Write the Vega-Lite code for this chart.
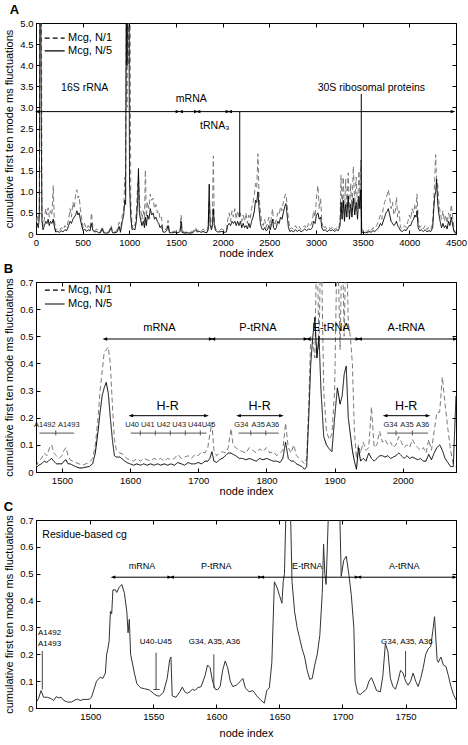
{
"$schema":"https://vega.github.io/schema/vega-lite/v6.json",
"background":"white",
"padding":{"left":3,"top":3,"right":10,"bottom":0},
"spacing":3,
"config":{
 "view":{"stroke":"#000","strokeWidth":1},
 "font":"Liberation Sans",
 "title":{"anchor":"start","frame":"bounds","fontSize":13,"fontWeight":"bold","font":"Liberation Sans","offset":1,"color":"#000"},
 "axis":{"grid":false,"domainColor":"#000","tickColor":"#000","labelColor":"#000","titleColor":"#000","labelFont":"Liberation Sans","titleFont":"Liberation Sans","labelFontSize":9.5,"titleFontSize":11,"titleFontWeight":"normal","tickSize":-4,"labelPadding":7,"labelFlush":false,"labelOverlap":false},
 "axisBottom":{"titlePadding":1},
 "axisLeft":{"titlePadding":5},
 "text":{"font":"Liberation Sans","color":"#000","baseline":"middle"}
},
"datasets":{
"A":[
{"x":0,"d":0.1,"s":0.05},{"x":12,"d":0.45,"s":0.25},{"x":25,"d":0.3,"s":0.15},{"x":36,"d":0.6,"s":0.4},{"x":42,"d":6,"s":6},{"x":50,"d":6,"s":6},{"x":58,"d":6,"s":2},{"x":64,"d":0.5,"s":0.3},{"x":75,"d":0.2,"s":0.1},{"x":90,"d":0.35,"s":0.2},{"x":105,"d":0.6,"s":0.3},{"x":118,"d":0.45,"s":0.25},{"x":130,"d":0.62,"s":0.35},{"x":142,"d":0.4,"s":0.2},{"x":155,"d":0.55,"s":0.3},{"x":170,"d":0.45,"s":0.25},{"x":185,"d":1.15,"s":0.35},{"x":195,"d":0.4,"s":0.2},{"x":210,"d":0.08,"s":0.05},{"x":230,"d":0.12,"s":0.06},{"x":250,"d":0.07,"s":0.04},{"x":270,"d":0.15,"s":0.08},{"x":290,"d":0.1,"s":0.05},{"x":310,"d":0.2,"s":0.1},{"x":330,"d":0.15,"s":0.08},{"x":350,"d":0.35,"s":0.2},{"x":365,"d":0.6,"s":0.3},{"x":380,"d":0.4,"s":0.25},{"x":395,"d":0.75,"s":0.35},{"x":410,"d":0.6,"s":0.4},{"x":425,"d":0.95,"s":0.45},{"x":438,"d":1.05,"s":0.55},{"x":450,"d":0.85,"s":0.45},{"x":462,"d":0.9,"s":0.5},{"x":475,"d":0.6,"s":0.35},{"x":490,"d":0.35,"s":0.2},{"x":505,"d":0.15,"s":0.08},{"x":520,"d":0.25,"s":0.12},{"x":540,"d":0.12,"s":0.06},{"x":560,"d":0.2,"s":0.1},{"x":578,"d":0.12,"s":0.07},{"x":595,"d":0.5,"s":0.25},{"x":610,"d":0.15,"s":0.08},{"x":630,"d":0.08,"s":0.05},{"x":650,"d":0.12,"s":0.06},{"x":670,"d":0.06,"s":0.03},{"x":690,"d":0.05,"s":0.03},{"x":710,"d":0.18,"s":0.12},{"x":725,"d":0.05,"s":0.03},{"x":750,"d":0.04,"s":0.02},{"x":780,"d":0.05,"s":0.03},{"x":805,"d":0.2,"s":0.15},{"x":820,"d":0.06,"s":0.03},{"x":845,"d":0.05,"s":0.03},{"x":870,"d":0.1,"s":0.05},{"x":890,"d":0.28,"s":0.18},{"x":905,"d":0.08,"s":0.04},{"x":925,"d":0.45,"s":0.3},{"x":940,"d":0.6,"s":0.45},{"x":952,"d":1.35,"s":0.8},{"x":960,"d":0.9,"s":0.7},{"x":968,"d":6,"s":6},{"x":975,"d":3,"s":4},{"x":982,"d":6,"s":6},{"x":990,"d":6,"s":6},{"x":996,"d":4,"s":6},{"x":1002,"d":6,"s":1.2},{"x":1008,"d":6,"s":0.8},{"x":1015,"d":0.8,"s":0.4},{"x":1030,"d":0.15,"s":0.1},{"x":1045,"d":0.25,"s":0.12},{"x":1060,"d":0.2,"s":0.1},{"x":1075,"d":0.5,"s":0.3},{"x":1090,"d":1.2,"s":0.8},{"x":1098,"d":1.4,"s":1.55},{"x":1108,"d":0.7,"s":0.5},{"x":1120,"d":0.6,"s":0.35},{"x":1135,"d":0.35,"s":0.2},{"x":1150,"d":0.55,"s":0.3},{"x":1162,"d":0.3,"s":0.15},{"x":1172,"d":1.52,"s":0.4},{"x":1182,"d":0.4,"s":0.2},{"x":1195,"d":0.75,"s":0.45},{"x":1210,"d":0.6,"s":0.35},{"x":1225,"d":0.95,"s":0.6},{"x":1240,"d":0.8,"s":0.45},{"x":1255,"d":0.85,"s":0.5},{"x":1270,"d":0.6,"s":0.35},{"x":1285,"d":0.7,"s":0.4},{"x":1300,"d":0.5,"s":0.3},{"x":1315,"d":0.55,"s":0.25},{"x":1330,"d":0.35,"s":0.15},{"x":1345,"d":0.4,"s":0.2},{"x":1360,"d":0.1,"s":0.05},{"x":1380,"d":0.08,"s":0.04},{"x":1400,"d":0.15,"s":0.08},{"x":1415,"d":0.32,"s":0.2},{"x":1430,"d":0.06,"s":0.03},{"x":1460,"d":0.05,"s":0.03},{"x":1490,"d":0.07,"s":0.04},{"x":1520,"d":0.05,"s":0.03},{"x":1545,"d":0.12,"s":0.06},{"x":1555,"d":0.45,"s":0.3},{"x":1565,"d":0.08,"s":0.04},{"x":1590,"d":0.04,"s":0.02},{"x":1620,"d":0.05,"s":0.03},{"x":1650,"d":0.04,"s":0.02},{"x":1680,"d":0.06,"s":0.03},{"x":1710,"d":0.15,"s":0.1},{"x":1725,"d":0.08,"s":0.05},{"x":1750,"d":0.1,"s":0.06},{"x":1770,"d":0.07,"s":0.04},{"x":1790,"d":0.12,"s":0.06},{"x":1810,"d":0.08,"s":0.04},{"x":1830,"d":0.05,"s":0.03},{"x":1845,"d":0.2,"s":0.1},{"x":1856,"d":0.8,"s":1.18},{"x":1866,"d":0.3,"s":0.2},{"x":1880,"d":0.15,"s":0.1},{"x":1890,"d":0.4,"s":0.2},{"x":1900,"d":1.85,"s":0.6},{"x":1910,"d":0.3,"s":0.2},{"x":1925,"d":0.12,"s":0.08},{"x":1945,"d":0.1,"s":0.05},{"x":1965,"d":0.08,"s":0.05},{"x":1985,"d":0.12,"s":0.06},{"x":2005,"d":0.1,"s":0.05},{"x":2025,"d":0.08,"s":0.04},{"x":2040,"d":0.1,"s":0.05},{"x":2055,"d":0.35,"s":0.2},{"x":2070,"d":0.5,"s":0.25},{"x":2085,"d":0.3,"s":0.2},{"x":2100,"d":0.55,"s":0.3},{"x":2115,"d":0.4,"s":0.25},{"x":2130,"d":0.6,"s":0.3},{"x":2145,"d":0.35,"s":0.2},{"x":2160,"d":0.55,"s":0.3},{"x":2175,"d":0.4,"s":0.2},{"x":2190,"d":0.5,"s":0.3},{"x":2205,"d":0.3,"s":0.15},{"x":2220,"d":0.45,"s":0.25},{"x":2235,"d":0.3,"s":0.15},{"x":2250,"d":0.5,"s":0.2},{"x":2265,"d":0.25,"s":0.12},{"x":2280,"d":0.45,"s":0.25},{"x":2295,"d":0.35,"s":0.15},{"x":2310,"d":0.6,"s":0.3},{"x":2325,"d":0.75,"s":0.4},{"x":2340,"d":0.95,"s":0.55},{"x":2352,"d":1.2,"s":0.8},{"x":2365,"d":1.1,"s":0.75},{"x":2378,"d":1.9,"s":1.0},{"x":2390,"d":0.9,"s":0.6},{"x":2405,"d":0.5,"s":0.25},{"x":2420,"d":0.25,"s":0.12},{"x":2435,"d":0.2,"s":0.1},{"x":2450,"d":0.35,"s":0.15},{"x":2465,"d":0.15,"s":0.08},{"x":2480,"d":0.25,"s":0.1},{"x":2495,"d":0.4,"s":0.2},{"x":2510,"d":0.2,"s":0.1},{"x":2525,"d":0.45,"s":0.25},{"x":2535,"d":0.6,"s":0.35},{"x":2545,"d":0.3,"s":0.15},{"x":2560,"d":0.2,"s":0.1},{"x":2575,"d":0.35,"s":0.15},{"x":2590,"d":0.5,"s":0.3},{"x":2605,"d":0.45,"s":0.25},{"x":2620,"d":0.65,"s":0.4},{"x":2635,"d":0.55,"s":0.35},{"x":2650,"d":0.75,"s":0.5},{"x":2665,"d":0.9,"s":0.65},{"x":2678,"d":0.95,"s":0.72},{"x":2690,"d":0.7,"s":0.45},{"x":2705,"d":0.35,"s":0.15},{"x":2720,"d":0.12,"s":0.06},{"x":2740,"d":0.15,"s":0.08},{"x":2760,"d":0.1,"s":0.05},{"x":2780,"d":0.2,"s":0.1},{"x":2800,"d":0.12,"s":0.06},{"x":2820,"d":0.18,"s":0.1},{"x":2840,"d":0.1,"s":0.05},{"x":2860,"d":0.15,"s":0.08},{"x":2880,"d":0.2,"s":0.12},{"x":2900,"d":0.12,"s":0.08},{"x":2920,"d":0.25,"s":0.12},{"x":2940,"d":0.18,"s":0.1},{"x":2960,"d":0.3,"s":0.15},{"x":2975,"d":0.55,"s":0.3},{"x":2990,"d":0.4,"s":0.25},{"x":3005,"d":0.85,"s":0.45},{"x":3020,"d":1.15,"s":0.5},{"x":3035,"d":0.6,"s":0.35},{"x":3050,"d":0.85,"s":0.4},{"x":3062,"d":0.3,"s":0.15},{"x":3080,"d":0.12,"s":0.08},{"x":3100,"d":0.18,"s":0.1},{"x":3120,"d":0.1,"s":0.05},{"x":3140,"d":0.15,"s":0.1},{"x":3160,"d":0.12,"s":0.08},{"x":3180,"d":0.18,"s":0.1},{"x":3200,"d":0.1,"s":0.06},{"x":3220,"d":0.15,"s":0.1},{"x":3240,"d":0.12,"s":0.08},{"x":3258,"d":0.3,"s":0.2},{"x":3268,"d":1.4,"s":0.75},{"x":3280,"d":0.5,"s":0.35},{"x":3292,"d":1.35,"s":0.8},{"x":3305,"d":0.45,"s":0.3},{"x":3318,"d":1.3,"s":0.7},{"x":3330,"d":0.6,"s":0.4},{"x":3345,"d":1.45,"s":0.9},{"x":3358,"d":0.5,"s":0.35},{"x":3372,"d":1.2,"s":0.7},{"x":3385,"d":0.55,"s":0.4},{"x":3400,"d":1.6,"s":0.85},{"x":3415,"d":0.7,"s":0.45},{"x":3430,"d":1.35,"s":0.75},{"x":3445,"d":0.6,"s":0.35},{"x":3460,"d":1.5,"s":0.9},{"x":3470,"d":0.9,"s":0.6},{"x":3480,"d":1.75,"s":1.05},{"x":3490,"d":0.08,"s":0.04},{"x":3510,"d":0.06,"s":0.03},{"x":3530,"d":0.1,"s":0.04},{"x":3550,"d":0.05,"s":0.03},{"x":3570,"d":0.12,"s":0.06},{"x":3590,"d":0.08,"s":0.04},{"x":3610,"d":0.15,"s":0.08},{"x":3630,"d":0.12,"s":0.06},{"x":3650,"d":0.2,"s":0.1},{"x":3670,"d":0.3,"s":0.15},{"x":3690,"d":0.45,"s":0.25},{"x":3705,"d":0.35,"s":0.2},{"x":3720,"d":0.6,"s":0.3},{"x":3735,"d":0.75,"s":0.4},{"x":3750,"d":0.85,"s":0.5},{"x":3765,"d":0.95,"s":0.55},{"x":3775,"d":1.05,"s":0.6},{"x":3790,"d":0.85,"s":0.45},{"x":3805,"d":0.6,"s":0.3},{"x":3820,"d":0.75,"s":0.25},{"x":3835,"d":0.45,"s":0.2},{"x":3850,"d":0.55,"s":0.25},{"x":3862,"d":0.87,"s":0.3},{"x":3875,"d":0.4,"s":0.2},{"x":3890,"d":0.55,"s":0.15},{"x":3905,"d":0.15,"s":0.08},{"x":3925,"d":0.12,"s":0.06},{"x":3945,"d":0.2,"s":0.1},{"x":3965,"d":0.15,"s":0.08},{"x":3985,"d":0.3,"s":0.15},{"x":4000,"d":0.45,"s":0.2},{"x":4015,"d":0.35,"s":0.2},{"x":4030,"d":0.6,"s":0.3},{"x":4045,"d":0.5,"s":0.35},{"x":4060,"d":0.7,"s":0.45},{"x":4072,"d":0.6,"s":0.4},{"x":4082,"d":0.95,"s":0.55},{"x":4095,"d":0.35,"s":0.15},{"x":4110,"d":0.15,"s":0.08},{"x":4130,"d":0.2,"s":0.1},{"x":4150,"d":0.12,"s":0.06},{"x":4170,"d":0.2,"s":0.1},{"x":4190,"d":0.1,"s":0.05},{"x":4210,"d":0.18,"s":0.08},{"x":4230,"d":0.12,"s":0.06},{"x":4250,"d":0.25,"s":0.15},{"x":4262,"d":0.8,"s":0.6},{"x":4272,"d":1.3,"s":0.9},{"x":4282,"d":1.88,"s":1.0},{"x":4292,"d":1.3,"s":1.3},{"x":4302,"d":1.25,"s":0.8},{"x":4315,"d":0.8,"s":0.5},{"x":4330,"d":0.5,"s":0.3},{"x":4345,"d":0.35,"s":0.15},{"x":4360,"d":0.55,"s":0.25},{"x":4375,"d":0.3,"s":0.15},{"x":4390,"d":0.45,"s":0.2},{"x":4405,"d":0.25,"s":0.12},{"x":4420,"d":0.5,"s":0.3},{"x":4435,"d":0.35,"s":0.2},{"x":4450,"d":0.7,"s":0.4},{"x":4465,"d":0.4,"s":0.2},{"x":4480,"d":0.1,"s":0.05},{"x":4500,"d":0.02,"s":0.01}
],
"legA":[{"x1":93,"x2":307,"y":4.64,"series":"d","label":"Mcg, N/1"},{"x1":93,"x2":307,"y":4.34,"series":"s","label":"Mcg, N/5"}],
"arrA":[{"x1":14,"x2":1521,"y":2.9},{"x1":1550,"x2":1718,"y":2.9},{"x1":1736,"x2":2057,"y":2.9},{"x1":2075,"x2":4468,"y":2.9}],
"txtA":[{"x":522,"y":3.45,"t":"16S rRNA"},{"x":1664,"y":3.2,"t":"mRNA"},{"x":1915,"y":2.57,"t":"tRNA₃"},{"x":3593,"y":3.45,"t":"30S ribosomal proteins"}],
"vlA":[{"x":2183,"y1":0.4,"y2":2.9},{"x":3485,"y1":0,"y2":3.32}],
"B":[
{"x":1462,"d":0.02,"s":0.015},{"x":1466,"d":0.04,"s":0.025},{"x":1470,"d":0.05,"s":0.03},{"x":1474,"d":0.07,"s":0.04},{"x":1478,"d":0.06,"s":0.035},{"x":1482,"d":0.09,"s":0.045},{"x":1485,"d":0.1,"s":0.05},{"x":1488,"d":0.07,"s":0.04},{"x":1492,"d":0.06,"s":0.03},{"x":1496,"d":0.05,"s":0.03},{"x":1500,"d":0.06,"s":0.03},{"x":1503,"d":0.08,"s":0.04},{"x":1506,"d":0.09,"s":0.045},{"x":1509,"d":0.06,"s":0.03},{"x":1512,"d":0.045,"s":0.03},{"x":1516,"d":0.04,"s":0.025},{"x":1520,"d":0.035,"s":0.02},{"x":1525,"d":0.03,"s":0.015},{"x":1530,"d":0.025,"s":0.015},{"x":1535,"d":0.03,"s":0.018},{"x":1540,"d":0.035,"s":0.02},{"x":1545,"d":0.05,"s":0.03},{"x":1549,"d":0.1,"s":0.07},{"x":1553,"d":0.2,"s":0.15},{"x":1556,"d":0.3,"s":0.22},{"x":1559,"d":0.37,"s":0.28},{"x":1562,"d":0.44,"s":0.31},{"x":1565,"d":0.45,"s":0.33},{"x":1568,"d":0.46,"s":0.29},{"x":1571,"d":0.4,"s":0.2},{"x":1574,"d":0.25,"s":0.12},{"x":1577,"d":0.12,"s":0.06},{"x":1580,"d":0.08,"s":0.055},{"x":1585,"d":0.07,"s":0.055},{"x":1590,"d":0.065,"s":0.045},{"x":1595,"d":0.05,"s":0.035},{"x":1600,"d":0.045,"s":0.03},{"x":1605,"d":0.04,"s":0.025},{"x":1610,"d":0.05,"s":0.03},{"x":1615,"d":0.04,"s":0.025},{"x":1620,"d":0.05,"s":0.03},{"x":1625,"d":0.045,"s":0.025},{"x":1630,"d":0.04,"s":0.03},{"x":1635,"d":0.05,"s":0.025},{"x":1640,"d":0.045,"s":0.03},{"x":1645,"d":0.05,"s":0.025},{"x":1650,"d":0.04,"s":0.03},{"x":1655,"d":0.05,"s":0.025},{"x":1660,"d":0.045,"s":0.03},{"x":1665,"d":0.05,"s":0.025},{"x":1670,"d":0.065,"s":0.035},{"x":1675,"d":0.05,"s":0.03},{"x":1680,"d":0.055,"s":0.025},{"x":1685,"d":0.06,"s":0.035},{"x":1690,"d":0.05,"s":0.03},{"x":1695,"d":0.065,"s":0.03},{"x":1700,"d":0.06,"s":0.035},{"x":1705,"d":0.075,"s":0.03},{"x":1710,"d":0.07,"s":0.04},{"x":1714,"d":0.09,"s":0.04},{"x":1717,"d":0.14,"s":0.05},{"x":1720,"d":0.18,"s":0.075},{"x":1723,"d":0.08,"s":0.04},{"x":1727,"d":0.06,"s":0.035},{"x":1731,"d":0.07,"s":0.045},{"x":1735,"d":0.075,"s":0.05},{"x":1740,"d":0.07,"s":0.06},{"x":1744,"d":0.09,"s":0.07},{"x":1748,"d":0.16,"s":0.07},{"x":1751,"d":0.1,"s":0.065},{"x":1755,"d":0.09,"s":0.06},{"x":1760,"d":0.08,"s":0.05},{"x":1765,"d":0.075,"s":0.05},{"x":1770,"d":0.07,"s":0.045},{"x":1775,"d":0.09,"s":0.05},{"x":1780,"d":0.08,"s":0.045},{"x":1785,"d":0.07,"s":0.04},{"x":1790,"d":0.085,"s":0.05},{"x":1795,"d":0.075,"s":0.045},{"x":1800,"d":0.09,"s":0.05},{"x":1805,"d":0.07,"s":0.045},{"x":1810,"d":0.075,"s":0.04},{"x":1815,"d":0.06,"s":0.04},{"x":1820,"d":0.07,"s":0.035},{"x":1824,"d":0.08,"s":0.05},{"x":1828,"d":0.18,"s":0.11},{"x":1832,"d":0.09,"s":0.05},{"x":1836,"d":0.07,"s":0.04},{"x":1840,"d":0.1,"s":0.04},{"x":1844,"d":0.06,"s":0.03},{"x":1848,"d":0.05,"s":0.025},{"x":1852,"d":0.04,"s":0.02},{"x":1856,"d":0.03,"s":0.01},{"x":1859,"d":0.05,"s":0.02},{"x":1862,"d":0.25,"s":0.2},{"x":1865,"d":0.5,"s":0.4},{"x":1868,"d":0.48,"s":0.5},{"x":1871,"d":0.42,"s":0.57},{"x":1874,"d":0.9,"s":0.42},{"x":1877,"d":0.45,"s":0.5},{"x":1880,"d":0.9,"s":0.3},{"x":1884,"d":0.3,"s":0.13},{"x":1888,"d":0.15,"s":0.1},{"x":1892,"d":0.12,"s":0.085},{"x":1896,"d":0.14,"s":0.075},{"x":1900,"d":0.3,"s":0.2},{"x":1904,"d":0.9,"s":0.31},{"x":1908,"d":0.45,"s":0.25},{"x":1911,"d":0.9,"s":0.28},{"x":1914,"d":0.5,"s":0.36},{"x":1917,"d":0.9,"s":0.39},{"x":1920,"d":0.55,"s":0.2},{"x":1923,"d":0.5,"s":0.14},{"x":1926,"d":0.4,"s":0.08},{"x":1929,"d":0.15,"s":0.04},{"x":1932,"d":0.05,"s":0.01},{"x":1935,"d":0.1,"s":0.09},{"x":1938,"d":0.07,"s":0.04},{"x":1942,"d":0.11,"s":0.05},{"x":1946,"d":0.08,"s":0.04},{"x":1950,"d":0.09,"s":0.07},{"x":1954,"d":0.24,"s":0.05},{"x":1958,"d":0.09,"s":0.04},{"x":1962,"d":0.1,"s":0.05},{"x":1966,"d":0.15,"s":0.06},{"x":1970,"d":0.11,"s":0.06},{"x":1974,"d":0.12,"s":0.055},{"x":1978,"d":0.1,"s":0.06},{"x":1982,"d":0.11,"s":0.05},{"x":1986,"d":0.09,"s":0.055},{"x":1990,"d":0.1,"s":0.06},{"x":1994,"d":0.13,"s":0.07},{"x":1998,"d":0.11,"s":0.06},{"x":2002,"d":0.09,"s":0.05},{"x":2006,"d":0.1,"s":0.06},{"x":2010,"d":0.09,"s":0.05},{"x":2014,"d":0.12,"s":0.055},{"x":2018,"d":0.1,"s":0.05},{"x":2022,"d":0.09,"s":0.045},{"x":2026,"d":0.08,"s":0.05},{"x":2030,"d":0.09,"s":0.04},{"x":2034,"d":0.07,"s":0.04},{"x":2038,"d":0.12,"s":0.065},{"x":2042,"d":0.08,"s":0.045},{"x":2046,"d":0.15,"s":0.07},{"x":2050,"d":0.22,"s":0.09},{"x":2054,"d":0.22,"s":0.1},{"x":2058,"d":0.35,"s":0.08},{"x":2062,"d":0.25,"s":0.05},{"x":2066,"d":0.16,"s":0.035},{"x":2070,"d":0.08,"s":0.02},{"x":2074,"d":0.03,"s":0.02},{"x":2078,"d":0.02,"s":0.28}
],
"legB":[{"x1":1475,"x2":1504,"y":0.67,"series":"d","label":"Mcg, N/1"},{"x1":1475,"x2":1504,"y":0.619,"series":"s","label":"Mcg, N/5"}],
"arrB":[{"x1":1563,"x2":1719,"y":0.49},{"x1":1721.5,"x2":1858,"y":0.49},{"x1":1861,"x2":1934,"y":0.49},{"x1":1936.6,"x2":2077,"y":0.49},{"x1":1601,"x2":1712,"y":0.2075},{"x1":1759,"x2":1822,"y":0.2075},{"x1":1974,"x2":2037,"y":0.2075}],
"txtB":[{"x":1643,"y":0.53,"t":"mRNA"},{"x":1787.5,"y":0.53,"t":"P-tRNA"},{"x":1895,"y":0.53,"t":"E-tRNA"},{"x":2005,"y":0.53,"t":"A-tRNA"}],
"hrB":[{"x":1655,"y":0.245,"t":"H-R"},{"x":1790,"y":0.245,"t":"H-R"},{"x":2005,"y":0.245,"t":"H-R"}],
"resB":[{"x":1475,"y":0.173,"t":"A1492"},{"x":1510,"y":0.173,"t":"A1493"},{"x":1603,"y":0.173,"t":"U40"},{"x":1626,"y":0.173,"t":"U41"},{"x":1649,"y":0.173,"t":"U42"},{"x":1672,"y":0.173,"t":"U43"},{"x":1695,"y":0.173,"t":"U44"},{"x":1715,"y":0.173,"t":"U45"},{"x":1763,"y":0.173,"t":"G34"},{"x":1788,"y":0.173,"t":"A35"},{"x":1809,"y":0.173,"t":"A36"},{"x":1982,"y":0.173,"t":"G34"},{"x":2006,"y":0.173,"t":"A35"},{"x":2029,"y":0.173,"t":"A36"}],
"glB":[{"x1":1467,"x2":1518,"y":0.143},{"x1":1601,"x2":1712,"y":0.143},{"x1":1759,"x2":1818,"y":0.143},{"x1":1977,"x2":2037,"y":0.143}],
"tkB":[{"x":1491,"y1":0.135,"y2":0.153},{"x":1615,"y1":0.135,"y2":0.153},{"x":1637,"y1":0.135,"y2":0.153},{"x":1659,"y1":0.135,"y2":0.153},{"x":1681,"y1":0.135,"y2":0.153},{"x":1703,"y1":0.135,"y2":0.153},{"x":1777,"y1":0.135,"y2":0.153},{"x":1799,"y1":0.135,"y2":0.153},{"x":1990,"y1":0.135,"y2":0.153},{"x":2014,"y1":0.135,"y2":0.153}],
"C":[
{"x":1457,"v":0.02},{"x":1459,"v":0.035},{"x":1461,"v":0.065},{"x":1463,"v":0.04},{"x":1466,"v":0.04},{"x":1469,"v":0.035},{"x":1471,"v":0.028},{"x":1473,"v":0.042},{"x":1475,"v":0.038},{"x":1477,"v":0.04},{"x":1479,"v":0.028},{"x":1482,"v":0.022},{"x":1485,"v":0.022},{"x":1488,"v":0.03},{"x":1490,"v":0.033},{"x":1492,"v":0.028},{"x":1495,"v":0.032},{"x":1499,"v":0.032},{"x":1501,"v":0.04},{"x":1503,"v":0.07},{"x":1505,"v":0.1},{"x":1508,"v":0.115},{"x":1510,"v":0.11},{"x":1512,"v":0.13},{"x":1513,"v":0.2},{"x":1514,"v":0.22},{"x":1515,"v":0.25},{"x":1516,"v":0.36},{"x":1517,"v":0.35},{"x":1518,"v":0.44},{"x":1520,"v":0.44},{"x":1521,"v":0.43},{"x":1523,"v":0.45},{"x":1525,"v":0.46},{"x":1527,"v":0.43},{"x":1529,"v":0.36},{"x":1530,"v":0.28},{"x":1531,"v":0.33},{"x":1532,"v":0.2},{"x":1535,"v":0.13},{"x":1537,"v":0.09},{"x":1540,"v":0.075},{"x":1543,"v":0.072},{"x":1547,"v":0.067},{"x":1550,"v":0.055},{"x":1553,"v":0.045},{"x":1555,"v":0.045},{"x":1558,"v":0.058},{"x":1561,"v":0.11},{"x":1563,"v":0.18},{"x":1564,"v":0.19},{"x":1565,"v":0.045},{"x":1568,"v":0.04},{"x":1571,"v":0.06},{"x":1573,"v":0.078},{"x":1575,"v":0.06},{"x":1577,"v":0.055},{"x":1579,"v":0.06},{"x":1581,"v":0.07},{"x":1583,"v":0.065},{"x":1585,"v":0.075},{"x":1588,"v":0.08},{"x":1591,"v":0.12},{"x":1593,"v":0.16},{"x":1595,"v":0.15},{"x":1597,"v":0.1},{"x":1599,"v":0.07},{"x":1601,"v":0.068},{"x":1603,"v":0.08},{"x":1605,"v":0.14},{"x":1607,"v":0.175},{"x":1609,"v":0.15},{"x":1611,"v":0.1},{"x":1613,"v":0.08},{"x":1616,"v":0.085},{"x":1619,"v":0.1},{"x":1621,"v":0.11},{"x":1623,"v":0.075},{"x":1626,"v":0.06},{"x":1629,"v":0.065},{"x":1632,"v":0.045},{"x":1635,"v":0.03},{"x":1638,"v":0.018},{"x":1640,"v":0.065},{"x":1642,"v":0.075},{"x":1644,"v":0.17},{"x":1646,"v":0.47},{"x":1648,"v":0.45},{"x":1650,"v":0.42},{"x":1652,"v":0.39},{"x":1653,"v":0.47},{"x":1654,"v":0.5},{"x":1656,"v":0.9},{"x":1658,"v":0.9},{"x":1660,"v":0.47},{"x":1662,"v":0.36},{"x":1664,"v":0.3},{"x":1666,"v":0.26},{"x":1668,"v":0.22},{"x":1670,"v":0.19},{"x":1672,"v":0.14},{"x":1674,"v":0.107},{"x":1676,"v":0.11},{"x":1678,"v":0.16},{"x":1680,"v":0.2},{"x":1682,"v":0.27},{"x":1684,"v":0.43},{"x":1685,"v":0.61},{"x":1686,"v":0.5},{"x":1687,"v":0.46},{"x":1688,"v":0.6},{"x":1690,"v":0.9},{"x":1697,"v":0.9},{"x":1699,"v":0.49},{"x":1701,"v":0.55},{"x":1703,"v":0.565},{"x":1705,"v":0.5},{"x":1707,"v":0.42},{"x":1709,"v":0.3},{"x":1710,"v":0.1},{"x":1712,"v":0.055},{"x":1714,"v":0.05},{"x":1716,"v":0.058},{"x":1719,"v":0.07},{"x":1721,"v":0.1},{"x":1723,"v":0.113},{"x":1725,"v":0.09},{"x":1727,"v":0.065},{"x":1730,"v":0.06},{"x":1732,"v":0.12},{"x":1734,"v":0.24},{"x":1736,"v":0.21},{"x":1738,"v":0.11},{"x":1740,"v":0.08},{"x":1742,"v":0.07},{"x":1744,"v":0.1},{"x":1746,"v":0.14},{"x":1748,"v":0.13},{"x":1750,"v":0.1},{"x":1752,"v":0.085},{"x":1754,"v":0.1},{"x":1756,"v":0.13},{"x":1758,"v":0.1},{"x":1760,"v":0.08},{"x":1762,"v":0.11},{"x":1764,"v":0.15},{"x":1766,"v":0.2},{"x":1768,"v":0.22},{"x":1770,"v":0.23},{"x":1772,"v":0.3},{"x":1773,"v":0.34},{"x":1775,"v":0.18},{"x":1776,"v":0.17},{"x":1778,"v":0.19},{"x":1780,"v":0.16},{"x":1782,"v":0.155},{"x":1784,"v":0.12},{"x":1786,"v":0.08},{"x":1788,"v":0.05},{"x":1790,"v":0.03}
],
"arrC":[{"x1":1518,"x2":1563,"y":0.487},{"x1":1564.5,"x2":1635,"y":0.487},{"x1":1636,"x2":1711.6,"y":0.487},{"x1":1713,"x2":1789,"y":0.487}],
"txtC":[{"x":1541,"y":0.53,"t":"mRNA"},{"x":1600,"y":0.53,"t":"P-tRNA"},{"x":1672,"y":0.53,"t":"E-tRNA"},{"x":1749,"y":0.53,"t":"A-tRNA"}],
"noteC":[{"x":1462,"y":0.645,"t":"Residue-based cg"}],
"resCl":[{"x":1458.6,"y":0.281,"t":"A1492"},{"x":1458.6,"y":0.24,"t":"A1493"}],
"resCc":[{"x":1552,"y":0.244,"t":"U40-U45"},{"x":1598.5,"y":0.244,"t":"G34, A35, A36"},{"x":1751,"y":0.244,"t":"G34, A35, A36"}],
"vlC":[{"x":1462,"y1":0.069,"y2":0.2125},{"x":1552.2,"y1":0.069,"y2":0.206},{"x":1598,"y1":0.075,"y2":0.2},{"x":1750,"y1":0.115,"y2":0.2125}],
"capC":[{"x1":1550,"x2":1555,"y":0.069}]
},
"vconcat":[
{
 "title":{"text":"A","dx":6},
 "width":420,"height":211,
 "resolve":{"axis":{"x":"independent","y":"independent"}},
 "layer":[
  {"data":{"name":"A"},"transform":[{"fold":["d","s"],"as":["series","v"]}],
   "mark":{"type":"line","clip":true,"strokeWidth":1},
   "encoding":{
    "x":{"field":"x","type":"quantitative","scale":{"domain":[0,4500],"nice":false,"zero":false},"axis":{"orient":"bottom","values":[0,500,1000,1500,2000,2500,3000,3500,4000,4500],"format":"d","title":"node index"}},
    "y":{"field":"v","type":"quantitative","scale":{"domain":[0,5],"nice":false},"axis":{"orient":"left","values":[0,0.5,1,1.5,2,2.5,3,3.5,4,4.5,5],"labelExpr":"datum.value === 0 ? '0' : format(datum.value, '.1f')","title":"cumulative first ten mode ms fluctuations"}},
    "color":{"field":"series","type":"nominal","scale":{"domain":["d","s"],"range":["#7a7a7a","#000000"]},"legend":null},
    "strokeDash":{"field":"series","type":"nominal","scale":{"domain":["d","s"],"range":[[5,3],[1,0]]},"legend":null}}},
  {"data":{"name":"legA"},"mark":{"type":"rule","color":"#000","strokeWidth":1.2},
   "encoding":{
    "x":{"field":"x1","type":"quantitative","axis":{"orient":"top","values":[0,500,1000,1500,2000,2500,3000,3500,4000,4500],"labels":false,"title":null}},
    "x2":{"field":"x2"},
    "y":{"field":"y","type":"quantitative","axis":{"orient":"right","values":[0,0.5,1,1.5,2,2.5,3,3.5,4,4.5,5],"labels":false,"title":null}},
    "strokeDash":{"field":"series","type":"nominal","legend":null}}},
  {"data":{"name":"legA"},"mark":{"type":"text","align":"left","fontSize":11},
   "encoding":{"x":{"datum":343,"type":"quantitative","axis":null},"y":{"field":"y","type":"quantitative","axis":null},"text":{"field":"label"}}},
  {"data":{"name":"arrA"},"mark":{"type":"rule","color":"#000","strokeWidth":1},
   "encoding":{"x":{"field":"x1","type":"quantitative","axis":null},"x2":{"field":"x2"},"y":{"field":"y","type":"quantitative","axis":null}}},
  {"data":{"name":"arrA"},"mark":{"type":"point","shape":"M1,-0.7L-1,0L1,0.7Z","filled":true,"color":"#000","size":22,"opacity":1},
   "encoding":{"x":{"field":"x1","type":"quantitative","axis":null},"y":{"field":"y","type":"quantitative","axis":null}}},
  {"data":{"name":"arrA"},"mark":{"type":"point","shape":"M-1,-0.7L1,0L-1,0.7Z","filled":true,"color":"#000","size":22,"opacity":1},
   "encoding":{"x":{"field":"x2","type":"quantitative","axis":null},"y":{"field":"y","type":"quantitative","axis":null}}},
  {"data":{"name":"txtA"},"mark":{"type":"text","fontSize":10.5,"align":"center"},
   "encoding":{"x":{"field":"x","type":"quantitative","axis":null},"y":{"field":"y","type":"quantitative","axis":null},"text":{"field":"t"}}},
  {"data":{"name":"vlA"},"mark":{"type":"rule","color":"#000","strokeWidth":1},
   "encoding":{"x":{"field":"x","type":"quantitative","axis":null},"y":{"field":"y1","type":"quantitative","axis":null},"y2":{"field":"y2"}}}
 ]
},
{
 "title":{"text":"B"},
 "width":420,"height":190,
 "resolve":{"axis":{"x":"independent","y":"independent"}},
 "layer":[
  {"data":{"name":"B"},"transform":[{"fold":["d","s"],"as":["series","v"]}],
   "mark":{"type":"line","clip":true,"strokeWidth":1},
   "encoding":{
    "x":{"field":"x","type":"quantitative","scale":{"domain":[1462,2078],"nice":false,"zero":false},"axis":{"orient":"bottom","values":[1500,1600,1700,1800,1900,2000],"format":"d","title":"node index"}},
    "y":{"field":"v","type":"quantitative","scale":{"domain":[0,0.7],"nice":false},"axis":{"orient":"left","values":[0,0.1,0.2,0.3,0.4,0.5,0.6,0.7],"labelExpr":"datum.value === 0 ? '0' : format(datum.value, '.1f')","title":"cumulative first ten mode ms fluctuations"}},
    "color":{"field":"series","type":"nominal","scale":{"domain":["d","s"],"range":["#6e6e6e","#000000"]},"legend":null},
    "strokeDash":{"field":"series","type":"nominal","scale":{"domain":["d","s"],"range":[[5,3],[1,0]]},"legend":null}}},
  {"data":{"name":"legB"},"mark":{"type":"rule","color":"#000","strokeWidth":1.2},
   "encoding":{
    "x":{"field":"x1","type":"quantitative","axis":{"orient":"top","values":[1500,1600,1700,1800,1900,2000],"labels":false,"title":null}},
    "x2":{"field":"x2"},
    "y":{"field":"y","type":"quantitative","axis":{"orient":"right","values":[0,0.1,0.2,0.3,0.4,0.5,0.6,0.7],"labels":false,"title":null}},
    "strokeDash":{"field":"series","type":"nominal","legend":null}}},
  {"data":{"name":"legB"},"mark":{"type":"text","align":"left","fontSize":11},
   "encoding":{"x":{"datum":1509,"type":"quantitative","axis":null},"y":{"field":"y","type":"quantitative","axis":null},"text":{"field":"label"}}},
  {"data":{"name":"arrB"},"mark":{"type":"rule","color":"#000","strokeWidth":1},
   "encoding":{"x":{"field":"x1","type":"quantitative","axis":null},"x2":{"field":"x2"},"y":{"field":"y","type":"quantitative","axis":null}}},
  {"data":{"name":"arrB"},"mark":{"type":"point","shape":"M1,-0.7L-1,0L1,0.7Z","filled":true,"color":"#000","size":22,"opacity":1},
   "encoding":{"x":{"field":"x1","type":"quantitative","axis":null},"y":{"field":"y","type":"quantitative","axis":null}}},
  {"data":{"name":"arrB"},"mark":{"type":"point","shape":"M-1,-0.7L1,0L-1,0.7Z","filled":true,"color":"#000","size":22,"opacity":1},
   "encoding":{"x":{"field":"x2","type":"quantitative","axis":null},"y":{"field":"y","type":"quantitative","axis":null}}},
  {"data":{"name":"txtB"},"mark":{"type":"text","fontSize":11,"align":"center"},
   "encoding":{"x":{"field":"x","type":"quantitative","axis":null},"y":{"field":"y","type":"quantitative","axis":null},"text":{"field":"t"}}},
  {"data":{"name":"hrB"},"mark":{"type":"text","fontSize":12.5,"align":"center"},
   "encoding":{"x":{"field":"x","type":"quantitative","axis":null},"y":{"field":"y","type":"quantitative","axis":null},"text":{"field":"t"}}},
  {"data":{"name":"resB"},"mark":{"type":"text","fontSize":7.5,"align":"center","color":"#222"},
   "encoding":{"x":{"field":"x","type":"quantitative","axis":null},"y":{"field":"y","type":"quantitative","axis":null},"text":{"field":"t"}}},
  {"data":{"name":"glB"},"mark":{"type":"rule","color":"#777","strokeWidth":1.2},
   "encoding":{"x":{"field":"x1","type":"quantitative","axis":null},"x2":{"field":"x2"},"y":{"field":"y","type":"quantitative","axis":null}}},
  {"data":{"name":"tkB"},"mark":{"type":"rule","color":"#555","strokeWidth":1},
   "encoding":{"x":{"field":"x","type":"quantitative","axis":null},"y":{"field":"y1","type":"quantitative","axis":null},"y2":{"field":"y2"}}}
 ]
},
{
 "title":{"text":"C"},
 "width":420,"height":188,
 "resolve":{"axis":{"x":"independent","y":"independent"}},
 "layer":[
  {"data":{"name":"C"},
   "mark":{"type":"line","clip":true,"strokeWidth":1,"color":"#333"},
   "encoding":{
    "x":{"field":"x","type":"quantitative","scale":{"domain":[1457,1790],"nice":false,"zero":false},"axis":{"orient":"bottom","values":[1500,1550,1600,1650,1700,1750],"format":"d","title":"node index","titlePadding":7}},
    "y":{"field":"v","type":"quantitative","scale":{"domain":[0,0.7],"nice":false},"axis":{"orient":"left","values":[0,0.1,0.2,0.3,0.4,0.5,0.6,0.7],"labelExpr":"datum.value === 0 ? '0' : format(datum.value, '.1f')","title":"cumulative first ten mode ms fluctuations"}}}},
  {"data":{"name":"vlC"},"mark":{"type":"rule","color":"#444","strokeWidth":1},
   "encoding":{
    "x":{"field":"x","type":"quantitative","axis":{"orient":"top","values":[1500,1550,1600,1650,1700,1750],"labels":false,"title":null}},
    "y":{"field":"y1","type":"quantitative","axis":{"orient":"right","values":[0,0.1,0.2,0.3,0.4,0.5,0.6,0.7],"labels":false,"title":null}},
    "y2":{"field":"y2"}}},
  {"data":{"name":"capC"},"mark":{"type":"rule","color":"#444","strokeWidth":1},
   "encoding":{"x":{"field":"x1","type":"quantitative","axis":null},"x2":{"field":"x2"},"y":{"field":"y","type":"quantitative","axis":null}}},
  {"data":{"name":"arrC"},"mark":{"type":"rule","color":"#000","strokeWidth":1},
   "encoding":{"x":{"field":"x1","type":"quantitative","axis":null},"x2":{"field":"x2"},"y":{"field":"y","type":"quantitative","axis":null}}},
  {"data":{"name":"arrC"},"mark":{"type":"point","shape":"M1,-0.7L-1,0L1,0.7Z","filled":true,"color":"#000","size":22,"opacity":1},
   "encoding":{"x":{"field":"x1","type":"quantitative","axis":null},"y":{"field":"y","type":"quantitative","axis":null}}},
  {"data":{"name":"arrC"},"mark":{"type":"point","shape":"M-1,-0.7L1,0L-1,0.7Z","filled":true,"color":"#000","size":22,"opacity":1},
   "encoding":{"x":{"field":"x2","type":"quantitative","axis":null},"y":{"field":"y","type":"quantitative","axis":null}}},
  {"data":{"name":"txtC"},"mark":{"type":"text","fontSize":9,"align":"center"},
   "encoding":{"x":{"field":"x","type":"quantitative","axis":null},"y":{"field":"y","type":"quantitative","axis":null},"text":{"field":"t"}}},
  {"data":{"name":"noteC"},"mark":{"type":"text","fontSize":10.5,"align":"left"},
   "encoding":{"x":{"field":"x","type":"quantitative","axis":null},"y":{"field":"y","type":"quantitative","axis":null},"text":{"field":"t"}}},
  {"data":{"name":"resCl"},"mark":{"type":"text","fontSize":8,"align":"left"},
   "encoding":{"x":{"field":"x","type":"quantitative","axis":null},"y":{"field":"y","type":"quantitative","axis":null},"text":{"field":"t"}}},
  {"data":{"name":"resCc"},"mark":{"type":"text","fontSize":8,"align":"center"},
   "encoding":{"x":{"field":"x","type":"quantitative","axis":null},"y":{"field":"y","type":"quantitative","axis":null},"text":{"field":"t"}}}
 ]
}
]
}
